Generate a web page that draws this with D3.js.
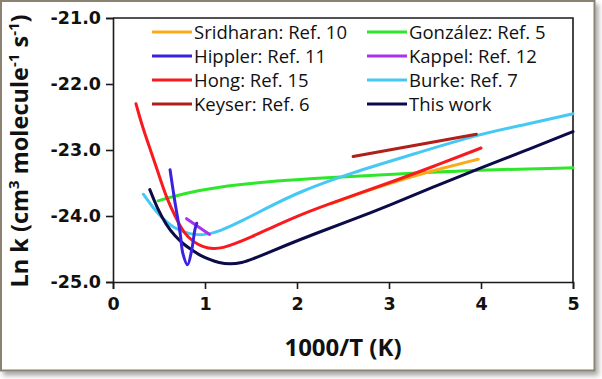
<!DOCTYPE html>
<html><head><meta charset="utf-8">
<script src="https://cdn.jsdelivr.net/npm/d3@7"></script>
<style>body{margin:0;background:#fff}svg{display:block}</style>
</head><body>
<svg id="c" width="602" height="379"></svg>
<script>
const xTicks = [0, 1, 2, 3, 4, 5];
const yTicks = [-21, -22, -23, -24, -25];

const sridharan = [[2.38,-23.81],[2.8,-23.60],[3.2,-23.42],[3.6,-23.27],[3.97,-23.14]];
const gonzalez = [[0.49,-23.77],[0.76,-23.66],[1.13,-23.56],[1.67,-23.48],[2.21,-23.43],[2.58,-23.40],[3.30,-23.35],[4.03,-23.30],[5.0,-23.27]];
const hippler = [[0.62,-23.30],[0.67,-23.76],[0.73,-24.26],[0.76,-24.57],[0.81,-24.74],[0.855,-24.52],[0.89,-24.21],[0.91,-24.11]];
const kappel = [[0.80,-24.04],[1.05,-24.28]];
const hong = [[0.25,-22.30],[0.32,-22.65],[0.40,-22.97],[0.50,-23.38],[0.58,-23.72],[0.68,-24.02],[0.77,-24.26],[0.88,-24.40],[0.98,-24.47],[1.09,-24.50],[1.20,-24.48],[1.31,-24.43],[1.5,-24.32],[1.67,-24.21],[2.03,-23.98],[2.5,-23.74],[3.0,-23.50],[3.5,-23.24],[4.0,-22.97]];
const burke = [[0.33,-23.67],[0.49,-23.98],[0.66,-24.19],[0.84,-24.28],[1.00,-24.29],[1.16,-24.23],[1.38,-24.09],[1.67,-23.88],[2.03,-23.63],[2.58,-23.35],[3.30,-23.05],[3.95,-22.77],[4.5,-22.61],[5.0,-22.45]];
const keyser = [[2.61,-23.10],[3.95,-22.76]];
const thisWork = [[0.40,-23.60],[0.48,-23.88],[0.58,-24.14],[0.67,-24.30],[0.76,-24.42],[0.86,-24.52],[0.95,-24.60],[1.05,-24.66],[1.15,-24.71],[1.27,-24.73],[1.40,-24.71],[1.52,-24.65],[1.68,-24.56],[1.85,-24.46],[2.21,-24.26],[2.58,-24.07],[3.0,-23.84],[3.5,-23.55],[4.0,-23.27],[4.5,-23.00],[5.0,-22.72]];

const seriesNames = ["Sridharan: Ref. 10","González: Ref. 5","Hippler: Ref. 11","Kappel: Ref. 12","Hong: Ref. 15","Burke: Ref. 7","Keyser: Ref. 6","This work"];
const seriesData = [sridharan, gonzalez, hippler, kappel, hong, burke, keyser, thisWork];
const seriesColors = ["#fbab18","#2ee62a","#3b22e0","#a932ee","#f81a1e","#46c8f4","#b0201a","#0b0b48"];

const svg = d3.select("#c");

// frame with shadow
const defs = svg.append("defs");
const f = defs.append("filter").attr("id","sh").attr("x","-5%").attr("y","-5%").attr("width","115%").attr("height","115%");
f.append("feGaussianBlur").attr("in","SourceAlpha").attr("stdDeviation",2.5);
f.append("feOffset").attr("dx",3).attr("dy",4).attr("result","b");
f.append("feComponentTransfer").append("feFuncA").attr("type","linear").attr("slope",0.35);
const m = f.append("feMerge"); m.append("feMergeNode"); m.append("feMergeNode").attr("in","SourceGraphic");
svg.append("rect").attr("x",1).attr("y",1).attr("width",593.5).attr("height",369.5)
  .attr("fill","#fff").attr("stroke","#8b8272").attr("stroke-width",2).attr("filter","url(#sh)");

const L = 113, R = 573, T = 18, B = 282;
const x = d3.scaleLinear().domain([0,5]).range([L,R]);
const y = d3.scaleLinear().domain([-25,-21]).range([B,T]);

const tickFont = "'DejaVu Sans', sans-serif";

const gx = svg.append("g").attr("transform",`translate(0,${B})`)
  .call(d3.axisBottom(x).tickValues(xTicks).tickFormat(d3.format("d")).tickSizeOuter(0).tickSize(7).tickPadding(9));
const gy = svg.append("g").attr("transform",`translate(${L},0)`)
  .call(d3.axisLeft(y).tickValues(yTicks).tickFormat(d => d.toFixed(1)).tickSizeOuter(0).tickSize(7).tickPadding(5));
[gx, gy].forEach(g => {
  g.select(".domain").attr("stroke","#1a1a1a").attr("stroke-width",1.6);
  g.selectAll(".tick line").attr("stroke","#1a1a1a").attr("stroke-width",1.6);
  g.selectAll("text").attr("font-family",tickFont).attr("font-weight","bold").attr("font-size",17.5).attr("fill","#111");
});
// top and right frame of plot
svg.append("path").attr("d",`M${L},${T}H${R}V${B}`).attr("fill","none").attr("stroke","#1a1a1a").attr("stroke-width",1.6);

const line = d3.line().x(d => x(d[0])).y(d => y(d[1])).curve(d3.curveBasis);
const lineH = d3.line().x(d => x(d[0])).y(d => y(d[1])).curve(d3.curveCatmullRom.alpha(0.5));
const drawOrder = [1,5,6,0,4,7,3,2];
drawOrder.forEach(i => {
  svg.append("path").datum(seriesData[i]).attr("d", i === 2 ? lineH : line)
    .attr("fill","none").attr("stroke",seriesColors[i]).attr("stroke-width",3).attr("stroke-linecap","round");
});

// legend
const legCols = [152, 367], legRows = [32, 56, 80, 104];
seriesNames.forEach((n,i) => {
  const cx = legCols[i%2], cy = legRows[Math.floor(i/2)];
  svg.append("line").attr("x1",cx).attr("x2",cx+40).attr("y1",cy).attr("y2",cy)
    .attr("stroke",seriesColors[i]).attr("stroke-width",3.2);
  svg.append("text").attr("x",cx+42).attr("y",cy+6.5).text(n)
    .attr("font-family","'Open Sans', sans-serif").attr("font-size",18.5).attr("fill","#111");
});

// axis titles
svg.append("text").attr("x",(L+R)/2).attr("y",356).attr("text-anchor","middle")
  .attr("font-family","'Open Sans', sans-serif").attr("font-weight","bold").attr("font-size",24).attr("fill","#111")
  .text("1000/T (K)");
const yt = svg.append("text").attr("transform",`translate(28,151) rotate(-90)`).attr("text-anchor","middle")
  .attr("font-family","'Open Sans', sans-serif").attr("font-weight","bold").attr("font-size",23.5).attr("fill","#111");
yt.append("tspan").text("Ln k (cm");
yt.append("tspan").text("3").attr("font-size",15).attr("dy",-9);
yt.append("tspan").text(" molecule").attr("dy",9);
yt.append("tspan").text("-1").attr("font-size",15).attr("dy",-9);
yt.append("tspan").text(" s").attr("dy",9);
yt.append("tspan").text("-1").attr("font-size",15).attr("dy",-9);
yt.append("tspan").text(")").attr("dy",9);
</script>
</body></html>
